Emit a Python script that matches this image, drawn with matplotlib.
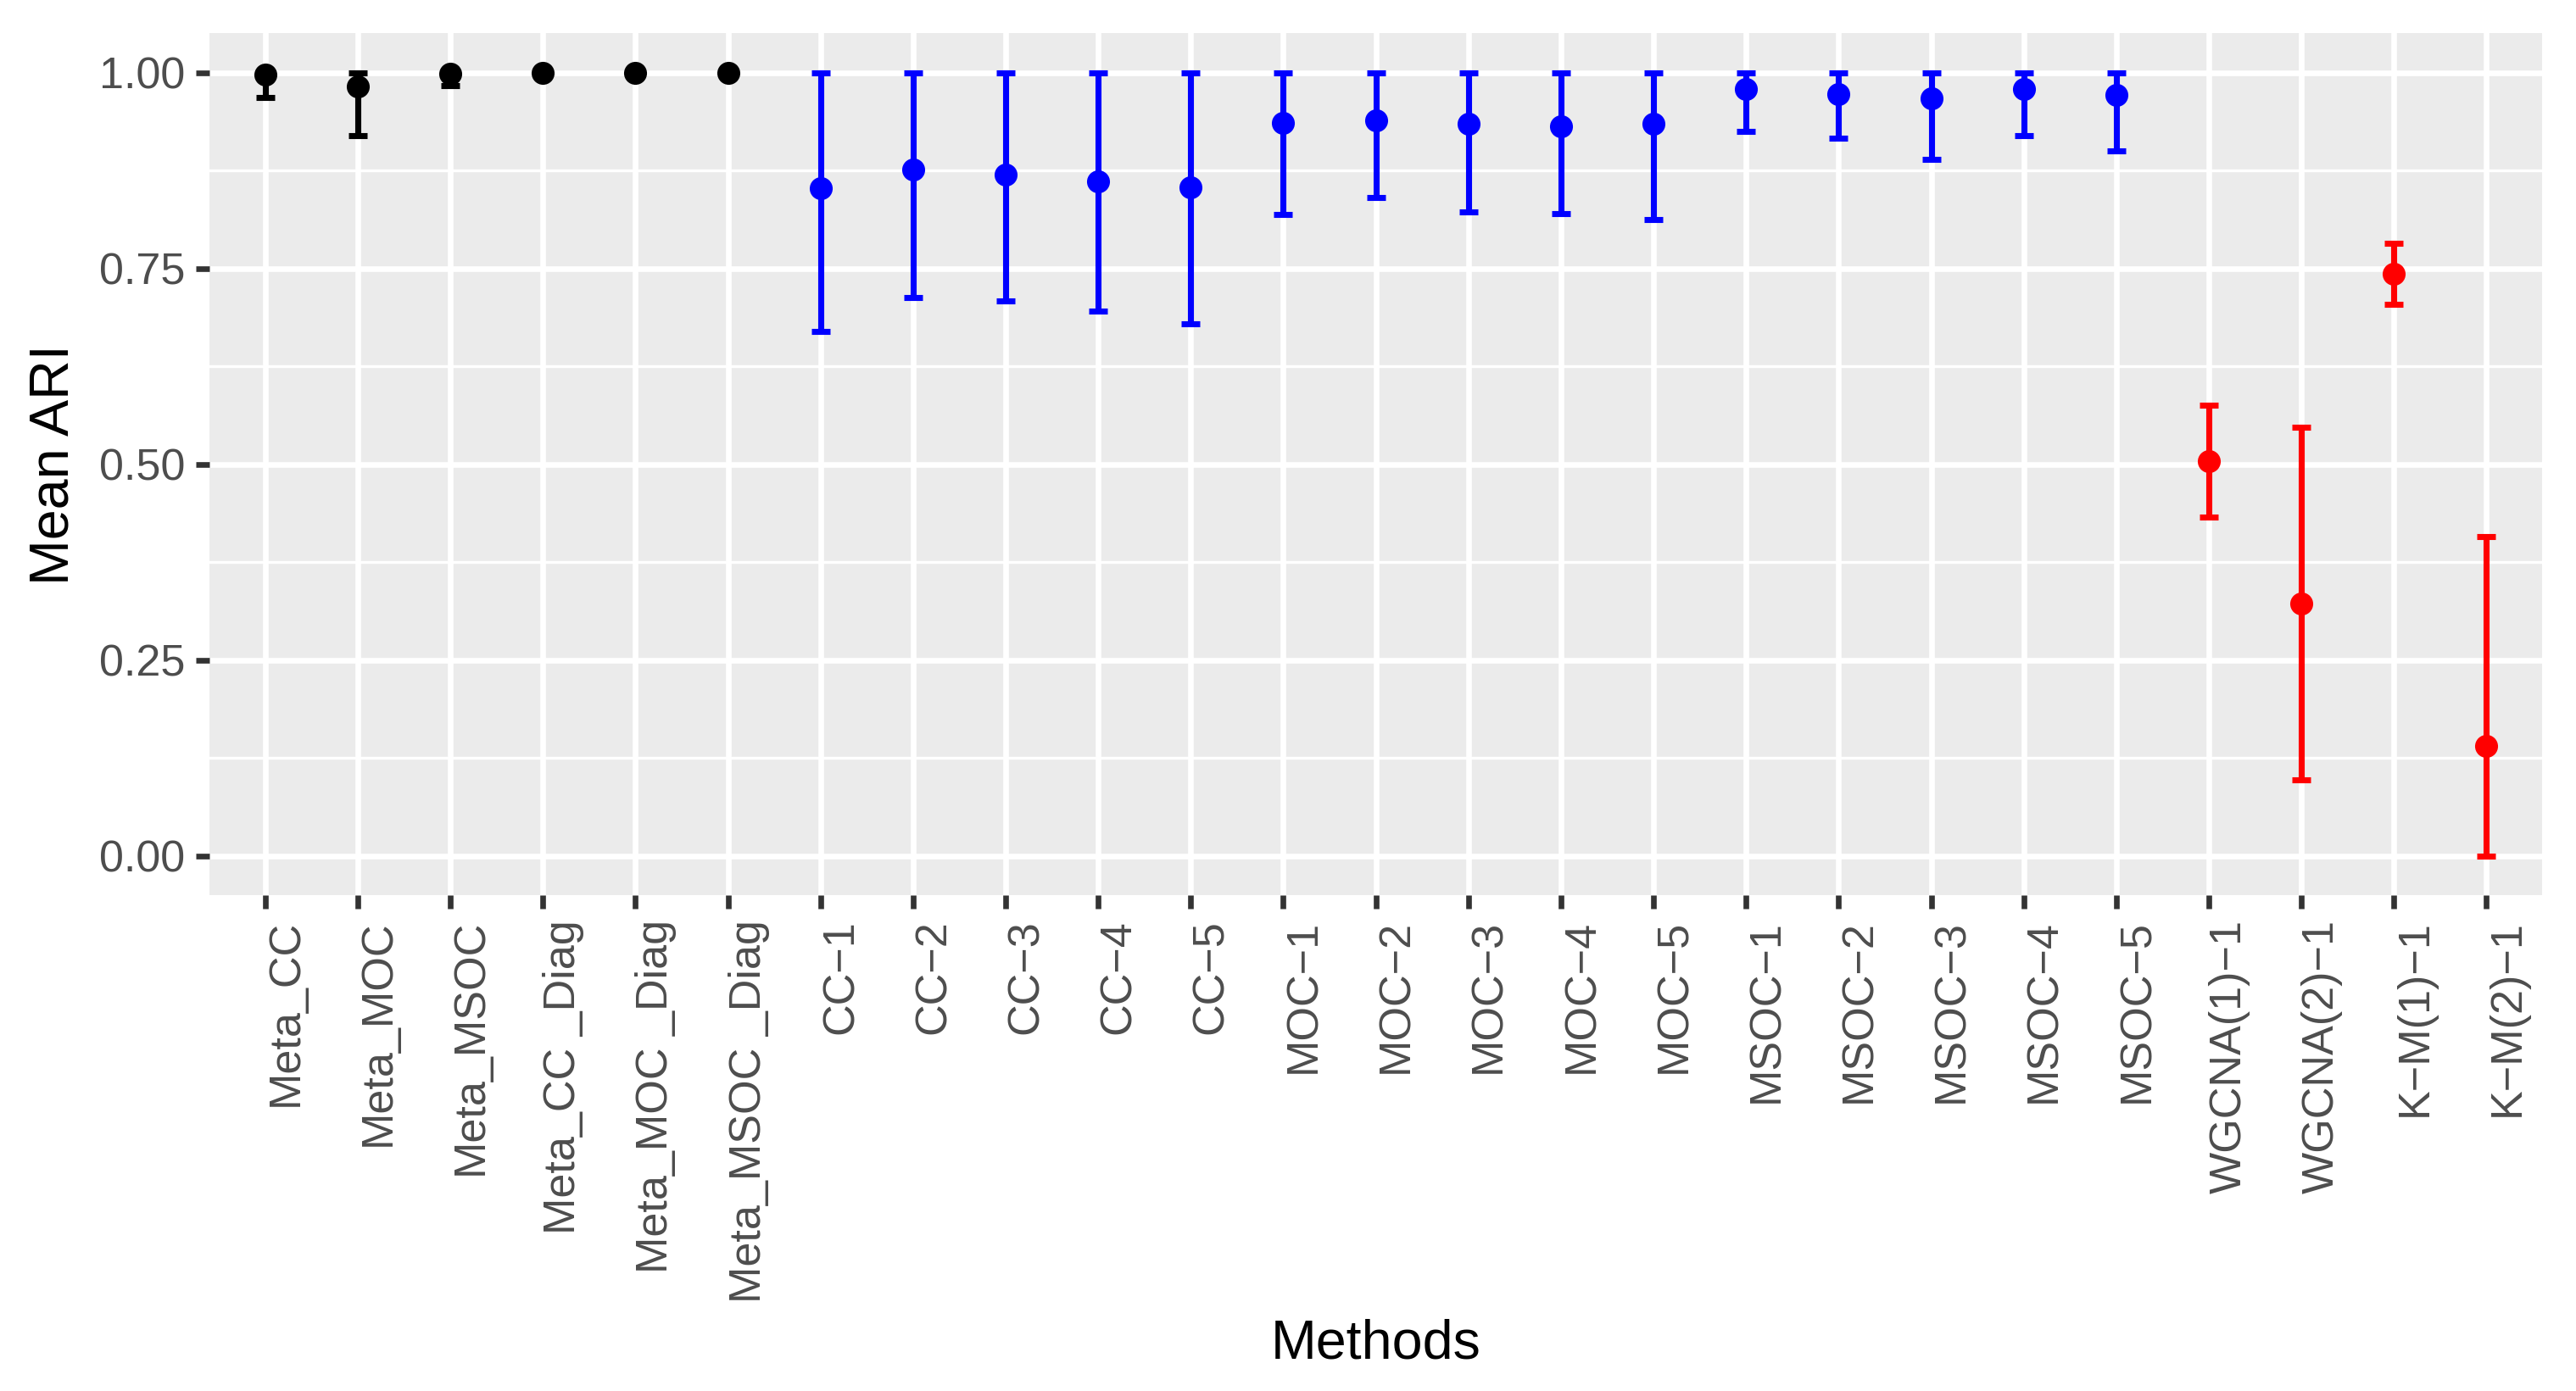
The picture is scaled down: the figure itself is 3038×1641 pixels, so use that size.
import matplotlib
matplotlib.use('Agg')
import matplotlib.pyplot as plt
import numpy as np

# ---- data ----
methods = ['Meta_CC', 'Meta_MOC', 'Meta_MSOC', 'Meta_CC _Diag', 'Meta_MOC _Diag', 'Meta_MSOC _Diag',
           'CC\u22121', 'CC\u22122', 'CC\u22123', 'CC\u22124', 'CC\u22125',
           'MOC\u22121', 'MOC\u22122', 'MOC\u22123', 'MOC\u22124', 'MOC\u22125',
           'MSOC\u22121', 'MSOC\u22122', 'MSOC\u22123', 'MSOC\u22124', 'MSOC\u22125',
           'WGCNA(1)\u22121', 'WGCNA(2)\u22121', 'K\u2212M(1)\u22121', 'K\u2212M(2)\u22121']
mean_ari = [0.997, 0.982, 0.998, 1.0, 1.0, 1.0,
            0.852, 0.876, 0.870, 0.861, 0.854,
            0.936, 0.939, 0.935, 0.931, 0.935,
            0.979, 0.973, 0.967, 0.979, 0.971,
            0.504, 0.322, 0.743, 0.140]
ari_lower = [0.968, 0.920, 0.983, 1.0, 1.0, 1.0,
             0.670, 0.713, 0.709, 0.695, 0.679,
             0.819, 0.841, 0.822, 0.820, 0.812,
             0.925, 0.916, 0.889, 0.920, 0.900,
             0.433, 0.097, 0.704, 0.0]
ari_upper = [1.0, 1.0, 1.0, 1.0, 1.0, 1.0,
             1.0, 1.0, 1.0, 1.0, 1.0,
             1.0, 1.0, 1.0, 1.0, 1.0,
             1.0, 1.0, 1.0, 1.0, 1.0,
             0.575, 0.547, 0.782, 0.408]
groups = ['meta'] * 6 + ['single'] * 15 + ['baseline'] * 4

group_colors = {'meta': 'black', 'single': 'blue', 'baseline': 'red'}

plt.rcParams['font.family'] = ['Liberation Sans', 'DejaVu Sans']

fig = plt.figure(figsize=(3038 / 300, 1641 / 300), dpi=300)
ax = fig.add_axes([0.0814, 0.3565, 0.9868 - 0.0814, 0.976 - 0.3565])
ax.set_facecolor('#EBEBEB')

x = np.arange(1, len(methods) + 1)
mean_ari = np.array(mean_ari)
ari_lower = np.array(ari_lower)
ari_upper = np.array(ari_upper)
groups = np.array(groups)

for g, col in group_colors.items():
    m = groups == g
    ax.errorbar(x[m], mean_ari[m],
                yerr=[mean_ari[m] - ari_lower[m], ari_upper[m] - mean_ari[m]],
                fmt='none', ecolor=col, elinewidth=1.7,
                capsize=2.65, capthick=1.7, zorder=3)
    ax.plot(x[m], mean_ari[m], 'o', color=col, ms=6.5, mew=0, zorder=4)

ax.set_xlim(0.4, len(methods) + 0.6)
ax.set_ylim(-0.05, 1.05)

ax.set_yticks([0, 0.25, 0.5, 0.75, 1.0])
ax.set_yticklabels(['0.00', '0.25', '0.50', '0.75', '1.00'])
ax.set_yticks([0.125, 0.375, 0.625, 0.875], minor=True)
ax.set_xticks(x)
ax.set_xticklabels(methods, rotation=90, ha='left', va='top')

ax.grid(which='major', color='white', linewidth=1.6)
ax.grid(which='minor', axis='y', color='white', linewidth=0.8)
ax.set_axisbelow(True)
for s in ax.spines.values():
    s.set_visible(False)

ax.tick_params(axis='both', which='major', length=3.9, width=1.6, color='#333333',
               labelcolor='#4D4D4D', labelsize=12.5, pad=3.1)
ax.tick_params(axis='both', which='minor', length=0)

fig.text(0.534, 0.034, 'Methods', ha='center', va='center', fontsize=15.5, color='black')
fig.text(0.021, 0.666, 'Mean ARI', ha='center', va='center', rotation=90,
         fontsize=15.5, color='black')

fig.savefig('out.png', dpi=300, facecolor='white')
